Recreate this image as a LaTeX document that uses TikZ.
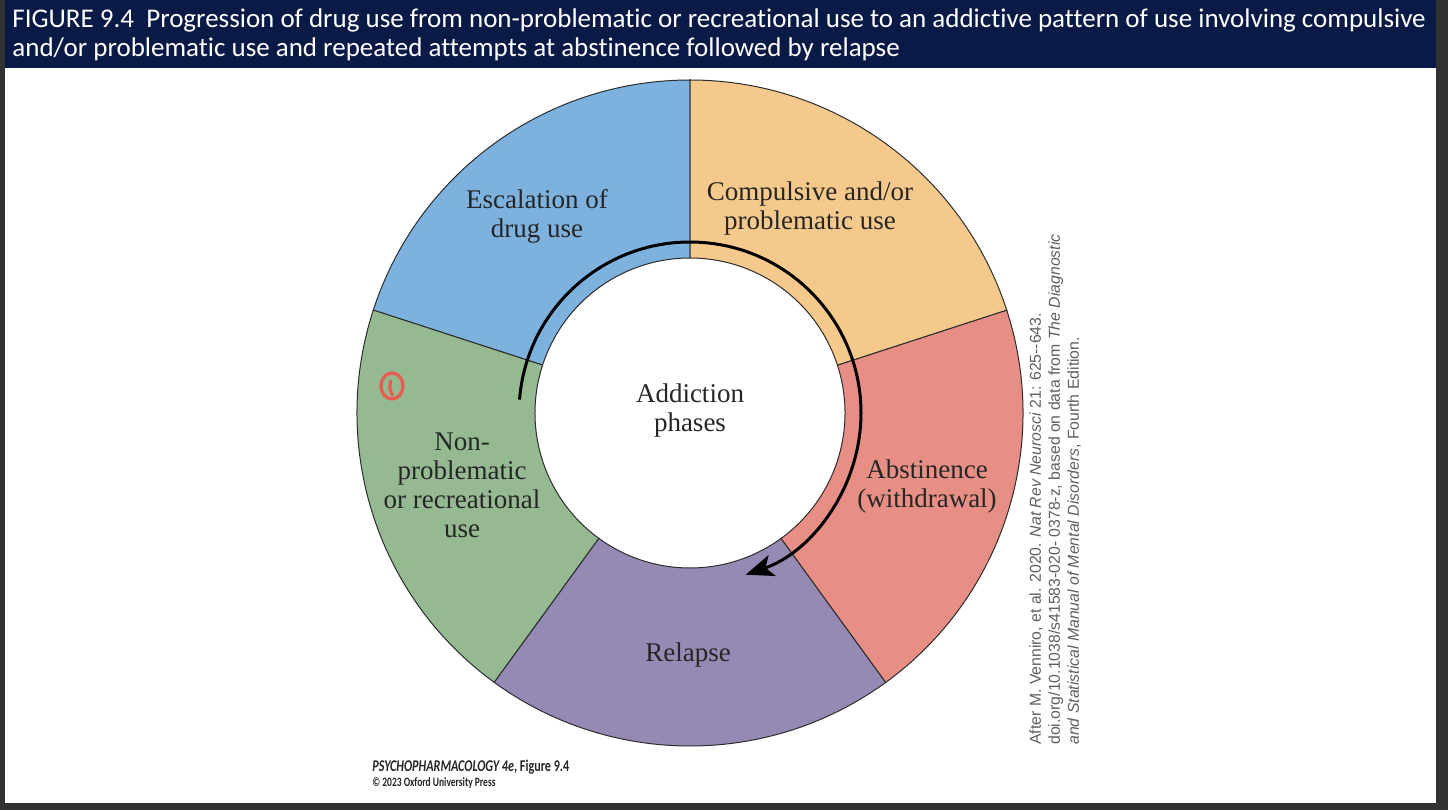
\documentclass[tikz,border=0pt]{standalone}
\usepackage{fontspec}
\setmainfont{Liberation Serif}
\newfontfamily\titlefont[Ligatures=CommonOff]{Carlito}
\newfontfamily\condfont[FakeStretch=0.74]{Carlito}
\newfontfamily\creditfont{Liberation Sans}
\usepackage{xcolor}
\usepackage{tikz}
\usetikzlibrary{arrows.meta, positioning, calc}

\definecolor{framegray}{RGB}{50,50,50}
\definecolor{navybar}{RGB}{10,26,70}
\definecolor{escblue}{RGB}{125,177,222}
\definecolor{comporange}{RGB}{245,201,139}
\definecolor{absred}{RGB}{231,143,132}
\definecolor{relpurple}{RGB}{150,138,181}
\definecolor{recgreen}{RGB}{149,186,146}
\definecolor{segline}{RGB}{45,45,45}
\definecolor{notered}{RGB}{232,92,80}
\definecolor{creditgray}{RGB}{95,95,95}

\begin{document}
\begin{tikzpicture}[
    x=0.5pt, y=0.5pt,
    titleline/.style={anchor=base west, inner sep=0pt, text=white,
      font=\titlefont\fontsize{13.5}{15}\selectfont},
    phase/.style={align=center, inner sep=0pt, text=black!85,
      font=\fontsize{13.5}{14.5}\selectfont},
    segment/.style={draw=segline, line width=0.5pt},
    phasearrow/.style={-{Stealth[length=14pt, width=11pt, inset=3.5pt]},
      line width=1.5pt, black},
    credit/.style={inner sep=0pt, align=left, text=creditgray,
      font=\creditfont\fontsize{7.9}{9.5}\selectfont},
    publisher/.style={anchor=base west, inner sep=0pt, text=black!85},
]

% ── Frame and title bar ──
\useasboundingbox (0,0) rectangle (1448,810);
\fill[framegray] (0,0) rectangle (1448,810);
\fill[white] (5,7) rectangle (1436,810);
\fill[navybar] (5,742) rectangle (1436,810);

\node[titleline] (title1) at (12,782) {FIGURE 9.4\ \ Progression of drug use
  from non-problematic or recreational use to an addictive pattern of use
  involving compulsive};
\node[titleline] (title2) at (12,753) {and/or problematic use and repeated
  attempts at abstinence followed by relapse};

% ── Ring of phases ──
\begin{scope}[shift={(690,397)}]
  \foreach \a/\b/\col in {90/162/escblue, 162/234/recgreen,
      234/306/relpurple, 306/378/absred, 18/90/comporange}
    \filldraw[segment, fill=\col] (\a:166.5pt)
      arc[start angle=\a, end angle=\b, radius=166.5pt]
      -- (\b:77.5pt) arc[start angle=\b, end angle=\a, radius=77.5pt]
      -- cycle;

  \coordinate (arcstart) at (175.5:85.5pt);
  \draw[phasearrow] (arcstart)
    arc[start angle=175.5, end angle=-71, radius=85.5pt];
\end{scope}

% ── Phase labels ──
\node[phase] (center) at (690,399) {Addiction\\phases};
\node[phase] (escalation) at (537,594) {Escalation of\\drug use};
\node[phase] (compulsive) at (810,601) {Compulsive and/or\\problematic use};
\node[phase] (abstinence) at (927,323) {Abstinence\\(withdrawal)};
\node[phase] (relapse) at (688,155) {Relapse};
\node[phase] (recreational) at (462,325) {Non-\\problematic\\or recreational\\use};

% ── Hand mark ──
\draw[notered, line width=1.6pt] (392,424) ellipse[x radius=5.5pt, y radius=6.5pt];
\draw[notered, line width=1.6pt, line cap=round] (390.5,429)
  .. controls (389.5,421) .. (392.5,415);

% ── Credits ──
\node[credit, rotate=90, anchor=north west] (source) at (1029,65)
  {After M. Venniro, et al. 2020. \emph{Nat Rev Neurosci} 21: 625--643.\\
   doi.org/10.1038/s41583-020- 0378-z, based on data from \emph{The Diagnostic}\\
   \emph{and Statistical Manual of Mental Disorders}, Fourth Edition.};

\node[publisher, font=\condfont\bfseries\fontsize{8.2}{10}\selectfont]
  (book) at (372,39) {\textit{PSYCHOPHARMACOLOGY 4e}, Figure 9.4};
\node[publisher, font=\condfont\bfseries\fontsize{6.4}{8}\selectfont]
  (press) at (372,24) {\copyright{} 2023 Oxford University Press};

\end{tikzpicture}
\end{document}
